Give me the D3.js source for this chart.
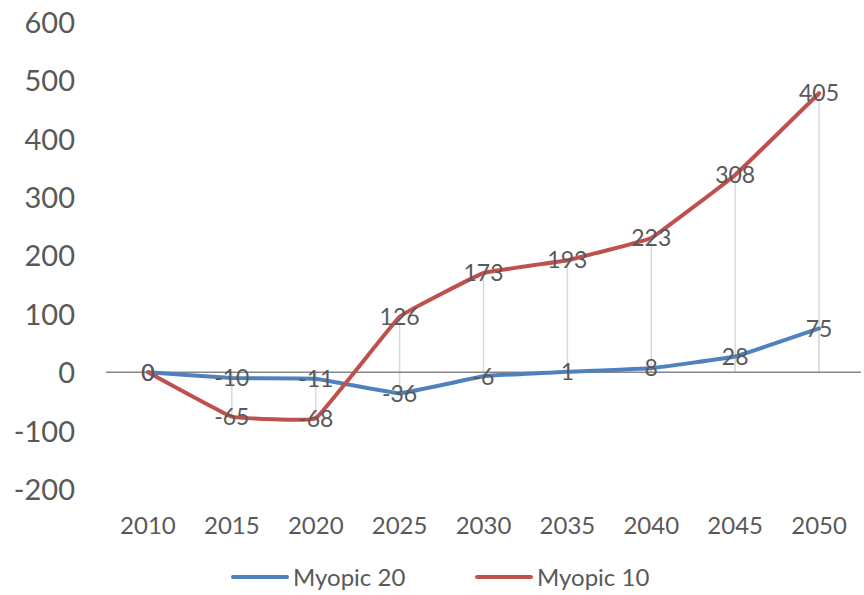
<!DOCTYPE html>
<html>
<head>
<meta charset="utf-8">
<script src="https://cdn.jsdelivr.net/npm/d3@7"></script>
<style>
  html, body { margin: 0; padding: 0; background: #ffffff; }
  svg { display: block; }
  text { font-family: Lato, "Open Sans", sans-serif; fill: #595959; }
</style>
</head>
<body>
<svg id="chart" width="864" height="595"></svg>
<script>
// ---- data ----
const years = ["2010", "2015", "2020", "2025", "2030", "2035", "2040", "2045", "2050"];
const seriesNames = ["Myopic 20", "Myopic 10"];
const myopic20Values = [0, -10, -11, -36, -7, 1, 7, 27, 75];
const myopic20Labels = ["0", "-10", "-11", "-36", "-6", "1", "8", "28", "75"];
const myopic10Values = [0, -76, -79, 95, 170, 192, 230, 338, 478];
const myopic10Labels = ["0", "-65", "-68", "126", "173", "193", "223", "308", "405"];
const yTicks = [-200, -100, 0, 100, 200, 300, 400, 500, 600];
const colors = ["#4F81BD", "#C0504D"];

const svg = d3.select("#chart");
const x = d3.scaleBand().domain(years).range([106, 861]);
const y = d3.scaleLinear().domain([-200, 600]).range([489, 22]);
const cx = d => x(d) + x.bandwidth() / 2;

const series = [
  { name: seriesNames[0], values: myopic20Values, labels: myopic20Labels, color: colors[0] },
  { name: seriesNames[1], values: myopic10Values, labels: myopic10Labels, color: colors[1] }
];

// y axis labels (no line)
const yAxis = d3.axisLeft(y).tickValues(yTicks).tickFormat(d => String(d)).tickSize(0).tickPadding(0);
const yg = svg.append("g").attr("transform", "translate(75,0)").call(yAxis);
yg.select(".domain").remove();
yg.selectAll("text").attr("font-size", 29).attr("fill", "#595959")
  .style("font-family", "Lato, 'Open Sans', sans-serif").attr("dy", "0.36em");

// x axis labels at the bottom
const xAxis = d3.axisBottom(x).tickSize(0).tickPadding(0);
const xg = svg.append("g").attr("transform", "translate(0,525)").call(xAxis);
xg.select(".domain").remove();
xg.selectAll("text").attr("font-size", 24).attr("fill", "#595959")
  .style("font-family", "Lato, 'Open Sans', sans-serif").attr("dy", "0.36em");

// drop lines
series.forEach(s => {
  svg.append("g").selectAll("line").data(years).join("line")
    .attr("x1", d => cx(d)).attr("x2", d => cx(d))
    .attr("y1", (d, i) => y(s.values[i])).attr("y2", y(0))
    .attr("stroke", "#d9d9d9").attr("stroke-width", 1.5);
});

// zero axis line
svg.append("line").attr("x1", x.range()[0]).attr("x2", x.range()[1])
  .attr("y1", y(0)).attr("y2", y(0)).attr("stroke", "#868686").attr("stroke-width", 1.5);

// series lines
const line = d3.line().x((d, i) => cx(years[i])).y(d => y(d)).curve(d3.curveCardinal.tension(0.8));
series.forEach(s => {
  svg.append("path").datum(s.values).attr("d", line)
    .attr("fill", "none").attr("stroke", s.color).attr("stroke-width", 4)
    .attr("stroke-linejoin", "round").attr("stroke-linecap", "round");
});

// data labels
series.forEach(s => {
  svg.append("g").selectAll("text").data(years).join("text")
    .attr("x", d => cx(d)).attr("y", (d, i) => y(s.values[i]))
    .attr("dy", "0.36em").attr("text-anchor", "middle").attr("font-size", 23)
    .text((d, i) => s.labels[i]);
});

// legend
const legendX = [233, 477];
series.forEach((s, i) => {
  const g = svg.append("g").attr("transform", `translate(${legendX[i]},577)`);
  g.append("line").attr("x1", 0).attr("x2", 54).attr("y1", 0).attr("y2", 0)
    .attr("stroke", s.color).attr("stroke-width", 4).attr("stroke-linecap", "round");
  g.append("text").attr("x", 60).attr("y", 0).attr("dy", "0.36em")
    .attr("font-size", 24).text(s.name);
});
</script>
</body>
</html>
